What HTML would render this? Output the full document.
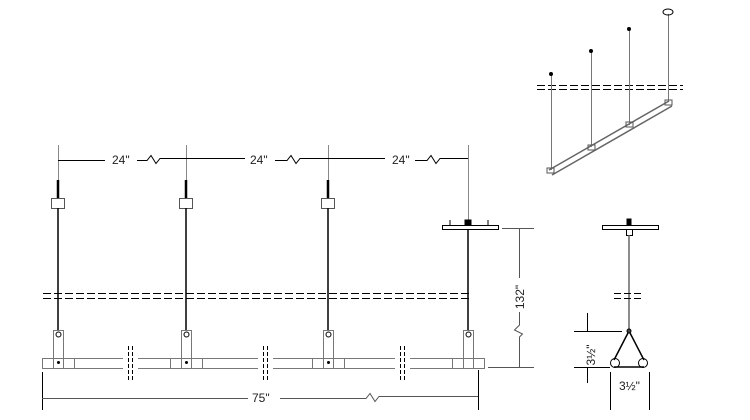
<!DOCTYPE html><html><head><style>body{margin:0;background:#fff}svg{display:block}text{font-family:"Liberation Sans",sans-serif;font-size:12px;fill:#222}</style></head><body>
<svg width="750" height="420" viewBox="0 0 750 420" xmlns="http://www.w3.org/2000/svg">
<g stroke="#000" fill="none" stroke-width="1">
<line x1="58.5" y1="145" x2="58.5" y2="180" stroke="#888"/>
<line x1="186.5" y1="145" x2="186.5" y2="180" stroke="#888"/>
<line x1="328.5" y1="145" x2="328.5" y2="180" stroke="#888"/>
<line x1="468.5" y1="145" x2="468.5" y2="225" stroke="#888"/>
<path d="M58 160.5H105M137 160.5H147l4-5 5 8 4-5H245M275 160.5H287l4-5 5 8 4-5H385M415 160.5H427l4-5 5 8 4-5H468"/>
</g>
<text x="112" y="164">24"</text><text x="250" y="164">24"</text><text x="392" y="164">24"</text>
<g stroke="#000" fill="none">
<g id="c">
<line x1="58" y1="180" x2="58" y2="198" stroke-width="2.5"/>
<rect x="51.5" y="198.5" width="13" height="10" fill="#fff" stroke="#555"/>
<line x1="58" y1="208" x2="58" y2="330" stroke-width="1.5"/>
<rect x="53.5" y="330.5" width="10" height="38" fill="#fff" stroke="#777"/>
<circle cx="58.5" cy="334.5" r="2.5"/>
<rect x="42.5" y="358.5" width="32" height="10" fill="none" stroke="#777"/>
<circle cx="58.5" cy="362.5" r="1" fill="#000"/>
</g>
<use href="#c" x="128"/><use href="#c" x="270"/>
<line x1="468" y1="229" x2="468" y2="330" stroke-width="1.5"/>
<rect x="463.5" y="330.5" width="10" height="38" fill="#fff" stroke="#777"/>
<circle cx="468.5" cy="334.5" r="2.5"/>
<rect x="452.5" y="358.5" width="32" height="10" stroke="#777"/>
<rect x="442.5" y="225.5" width="56" height="4" fill="#fff"/>
<path d="M450 225v-5M488 225v-5M465 220h6v5h-6z" fill="#000"/>
<path d="M74 358.5H452M74 368.5H452" stroke="#777"/>
<rect x="123" y="356" width="15" height="14" fill="#fff" stroke="none"/>
<rect x="258" y="356" width="15" height="14" fill="#fff" stroke="none"/>
<rect x="395" y="356" width="15" height="14" fill="#fff" stroke="none"/>
<path d="M128.5 346v34M132.5 346v34M263.5 346v34M267.5 346v34M400.5 346v34M404.5 346v34" stroke-dasharray="4,2"/>
<path d="M43 293.5H470M43 298.5H470" stroke-dasharray="8,3"/>
<path d="M42.5 372V410M478.5 370V410" />
<path d="M42 398.5H248M280 398.5H366l4-5 5 8 4-5H478" stroke="#555"/>
<path d="M502 228.5H534M488 367.5H534M519.5 228V278M519.5 312V325l-5 5 8 4-3 3V367" stroke="#555"/>
<rect x="602.5" y="225.5" width="56" height="4" fill="#fff"/>
<path d="M627 219h4v6h-4z" fill="#000"/>
<rect x="626.5" y="229.5" width="6" height="6"/>
<line x1="629" y1="235" x2="629" y2="331" stroke="#666" stroke-width="1.5"/>
<path d="M614 293.5H644M614 298.5H644" stroke-dasharray="7,3"/>
<path d="M629 331L614 360M629 331L644 360M614 367H644" stroke-width="1.5"/>
<circle cx="629" cy="331" r="2" fill="#444"/>
<circle cx="615" cy="363" r="4.5"/><circle cx="643" cy="363" r="4.5"/>
<path d="M574 331.5H622M574 367.5H610M587.5 313V331M587.5 367V383M610.5 372V410M649.5 372V410"/>
<path d="M537 85.5H683M537 89.5H683" stroke-dasharray="8,3"/>
<path d="M549 170L669 101M552 175L672 106" stroke="#666" stroke-width="1.5"/>
<path d="M551.5 75V170M591.5 52V147M629.5 30V125M668.5 14V101" stroke="#777"/>
<ellipse cx="668" cy="12" rx="5" ry="3"/>
<circle cx="551" cy="74" r="1.5" fill="#000"/><circle cx="591" cy="51" r="1.5" fill="#000"/><circle cx="629" cy="29" r="1.5" fill="#000"/>
<rect x="547" y="168" width="7" height="5" stroke="#555"/><rect x="588" y="145" width="7" height="5" stroke="#555"/><rect x="626" y="122" width="7" height="5" stroke="#555"/><rect x="665" y="100" width="7" height="5" stroke="#555"/>
</g>
<text x="252" y="402">75"</text>
<text transform="translate(524,297) rotate(-90)" text-anchor="middle">132"</text>
<text transform="translate(595,355) rotate(-90)" text-anchor="middle">3½"</text>
<text x="619" y="390">3½"</text>
</svg></body></html>
